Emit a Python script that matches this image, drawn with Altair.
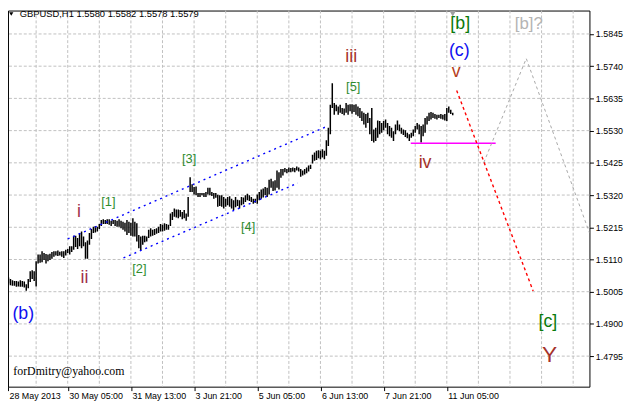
import json
import altair as alt
import pandas as pd

# ---------------- data ----------------
# H1 bars (high / low), bar index starts at 1
highs = [
    1.5072, 1.5051, 1.5046, 1.5042, 1.5040, 1.5040, 1.5038, 1.5042, 1.5040, 1.5038,
    1.5029, 1.5046, 1.5072, 1.5075, 1.5072, 1.5104, 1.5126, 1.5126, 1.5137, 1.5131,
    1.5128, 1.5126, 1.5129, 1.5134, 1.5137, 1.5137, 1.5139, 1.5135, 1.5137, 1.5137,
    1.5142, 1.5144, 1.5153, 1.5153, 1.5187, 1.5187, 1.5180, 1.5196, 1.5201, 1.5185,
    1.5166, 1.5172, 1.5196, 1.5209, 1.5217, 1.5219, 1.5217, 1.5226, 1.5239, 1.5241,
    1.5239, 1.5241, 1.5241, 1.5236, 1.5239, 1.5239, 1.5236, 1.5241, 1.5236, 1.5233,
    1.5230, 1.5239, 1.5233, 1.5230, 1.5244, 1.5233, 1.5228, 1.5190, 1.5185, 1.5187,
    1.5187, 1.5185, 1.5207, 1.5212, 1.5207, 1.5209, 1.5212, 1.5217, 1.5226, 1.5223,
    1.5228, 1.5226, 1.5223, 1.5260, 1.5265, 1.5276, 1.5273, 1.5273, 1.5271, 1.5265,
    1.5271, 1.5260, 1.5314, 1.5378, 1.5355, 1.5346, 1.5348, 1.5327, 1.5327, 1.5327,
    1.5327, 1.5330, 1.5344, 1.5344, 1.5330, 1.5327, 1.5327, 1.5321, 1.5319, 1.5319,
    1.5314, 1.5308, 1.5314, 1.5316, 1.5308, 1.5303, 1.5314, 1.5305, 1.5303, 1.5314,
    1.5312, 1.5319, 1.5324, 1.5319, 1.5314, 1.5308, 1.5308, 1.5322, 1.5330, 1.5338,
    1.5341, 1.5346, 1.5344, 1.5370, 1.5373, 1.5365, 1.5368, 1.5400, 1.5394, 1.5405,
    1.5405, 1.5408, 1.5405, 1.5410, 1.5408, 1.5410, 1.5408, 1.5413, 1.5410, 1.5405,
    1.5400, 1.5405, 1.5410, 1.5416, 1.5419, 1.5451, 1.5459, 1.5464, 1.5466, 1.5464,
    1.5469, 1.5464, 1.5499, 1.5539, 1.5614, 1.5684, 1.5620, 1.5614, 1.5609, 1.5614,
    1.5604, 1.5602, 1.5620, 1.5614, 1.5616, 1.5616, 1.5614, 1.5616, 1.5609, 1.5604,
    1.5593, 1.5588, 1.5584, 1.5588, 1.5571, 1.5604, 1.5534, 1.5539, 1.5563, 1.5561,
    1.5555, 1.5561, 1.5566, 1.5555, 1.5545, 1.5539, 1.5528, 1.5550, 1.5563, 1.5550,
    1.5539, 1.5534, 1.5531, 1.5523, 1.5518, 1.5523, 1.5534, 1.5545, 1.5555, 1.5550,
    1.5545, 1.5550, 1.5571, 1.5577, 1.5588, 1.5591, 1.5588, 1.5584, 1.5582, 1.5582,
    1.5584, 1.5582, 1.5584, 1.5604, 1.5609, 1.5598, 1.5588,
]
lows = [
    1.5046, 1.5032, 1.5026, 1.5024, 1.5024, 1.5021, 1.5022, 1.5021, 1.5021, 1.5019,
    1.5008, 1.5016, 1.5037, 1.5046, 1.5040, 1.5022, 1.5097, 1.5099, 1.5101, 1.5108,
    1.5097, 1.5104, 1.5108, 1.5112, 1.5119, 1.5123, 1.5121, 1.5123, 1.5119, 1.5115,
    1.5123, 1.5131, 1.5126, 1.5134, 1.5142, 1.5151, 1.5144, 1.5153, 1.5147, 1.5153,
    1.5112, 1.5112, 1.5158, 1.5177, 1.5196, 1.5198, 1.5201, 1.5209, 1.5219, 1.5226,
    1.5226, 1.5226, 1.5223, 1.5219, 1.5226, 1.5219, 1.5217, 1.5217, 1.5212, 1.5207,
    1.5201, 1.5190, 1.5196, 1.5187, 1.5185, 1.5185, 1.5169, 1.5147, 1.5140, 1.5158,
    1.5166, 1.5169, 1.5180, 1.5185, 1.5187, 1.5190, 1.5194, 1.5196, 1.5201, 1.5201,
    1.5204, 1.5207, 1.5207, 1.5219, 1.5239, 1.5249, 1.5247, 1.5244, 1.5249, 1.5241,
    1.5244, 1.5236, 1.5249, 1.5330, 1.5330, 1.5322, 1.5319, 1.5314, 1.5314, 1.5319,
    1.5314, 1.5314, 1.5322, 1.5319, 1.5317, 1.5308, 1.5311, 1.5282, 1.5284, 1.5282,
    1.5276, 1.5282, 1.5287, 1.5282, 1.5276, 1.5271, 1.5280, 1.5284, 1.5276, 1.5287,
    1.5290, 1.5297, 1.5303, 1.5301, 1.5297, 1.5292, 1.5295, 1.5292, 1.5303, 1.5308,
    1.5312, 1.5319, 1.5314, 1.5322, 1.5344, 1.5333, 1.5335, 1.5344, 1.5338, 1.5376,
    1.5384, 1.5394, 1.5391, 1.5394, 1.5394, 1.5397, 1.5394, 1.5400, 1.5397, 1.5380,
    1.5384, 1.5387, 1.5391, 1.5397, 1.5405, 1.5423, 1.5432, 1.5434, 1.5440, 1.5437,
    1.5442, 1.5437, 1.5448, 1.5480, 1.5518, 1.5604, 1.5582, 1.5593, 1.5582, 1.5588,
    1.5584, 1.5580, 1.5588, 1.5582, 1.5593, 1.5585, 1.5591, 1.5582, 1.5577, 1.5571,
    1.5561, 1.5550, 1.5539, 1.5555, 1.5518, 1.5496, 1.5491, 1.5496, 1.5507, 1.5518,
    1.5523, 1.5531, 1.5539, 1.5518, 1.5512, 1.5507, 1.5496, 1.5518, 1.5531, 1.5528,
    1.5520, 1.5516, 1.5509, 1.5505, 1.5496, 1.5507, 1.5512, 1.5523, 1.5534, 1.5518,
    1.5491, 1.5512, 1.5523, 1.5550, 1.5561, 1.5566, 1.5571, 1.5569, 1.5566, 1.5571,
    1.5569, 1.5566, 1.5563, 1.5561, 1.5588, 1.5584, 1.5580,
]

# time axis: bar positions of the labels and the grid
x_label_pos = [1.75, 32, 64, 96, 128, 160, 192, 224]
x_labels = ["28 May 2013", "30 May 05:00", "31 May 13:00", "3 Jun 21:00",
            "5 Jun 05:00", "6 Jun 13:00", "7 Jun 21:00", "11 Jun 05:00"]
x_grid = [16, 32, 48, 64, 80, 96, 112, 128, 144, 160, 176, 192, 208, 224,
          240, 256, 272, 288]
y_ticks = [1.5845, 1.5740, 1.5635, 1.5530, 1.5425, 1.5320, 1.5215, 1.5110,
           1.5005, 1.4900, 1.4795]

# wave labels
lab_text = ["(b)", "i", "ii", "[1]", "[2]", "[3]", "[4]", "[5]", "iii", "iv",
            "v", "(c)", "[b]", "[b]?", "[c]", "Y"]
lab_x = [9.5, 37.7, 40.5, 52.6, 68.3, 93.5, 123.4, 176.6, 175.6, 213.0,
         228.8, 230.3, 230.8, 265.5, 275.2, 276.0]
lab_p = [1.4933, 1.5265, 1.5051, 1.5298, 1.5080, 1.5437, 1.5215, 1.5673, 1.5770, 1.5424,
         1.5720, 1.5790, 1.5877, 1.5877, 1.4906, 1.4798]
lab_color = ["#1010F0", "#A0304A", "#A0304A", "#2E8B2E", "#2E8B2E", "#2E8B2E", "#2E8B2E",
             "#2E8B2E", "#A5322A", "#A5322A", "#B5401A", "#1010F0", "#0A7A0A", "#B4B4B4",
             "#0A7A0A", "#A5322A"]
lab_size = [18, 18, 18, 13, 13, 13, 13, 13, 18, 18, 18, 18, 18, 17, 18, 23]

# trend / forecast lines (bar index, price)
chan_x1 = [32.0, 60.25]
chan_p1 = [1.5177, 1.5115]
chan_x2 = [162.25, 148.55]
chan_p2 = [1.5541, 1.5359]
red_x = [229.0, 267.75]
red_p = [1.5661, 1.5007]
mag_x = [205.75, 248.75]
mag_p = [1.5489, 1.5489]
gray_x = [242.75, 264.25, 296.25]
gray_p = [1.5426, 1.5765, 1.5197]

# ---------------- chart ----------------
X_DOM = [1.75, 296.25]
Y_DOM = [1.46955, 1.59213]
FONT = "Liberation Sans"

xscale = alt.Scale(domain=X_DOM, nice=False, zero=False)
yscale = alt.Scale(domain=Y_DOM, nice=False, zero=False)

label_expr = json.dumps(x_labels) + "[round(datum.value / 32)]"
X_AX = alt.Axis(values=x_label_pos, labelExpr=label_expr, grid=False, domain=False,
                ticks=True, tickSize=4, tickColor="black", labelAlign="left",
                labelBaseline="top", labelPadding=1, labelOffset=1, labelFont=FONT,
                labelFontSize=9, labelColor="black", labelOverlap=False,
                labelFlush=False, title=None)
Y_AX = alt.Axis(orient="right", values=y_ticks, format=".4f", grid=False, domain=False,
                ticks=True, tickSize=4, tickColor="black", labelPadding=2,
                labelFont=FONT, labelFontSize=9, labelColor="black",
                labelFlush=False, labelOverlap=False, title=None)


def X(field):
    return alt.X(field, type="quantitative", scale=xscale, axis=X_AX)


def Y(field):
    return alt.Y(field, type="quantitative", scale=yscale, axis=Y_AX)


n = min(len(highs), len(lows))
bars_df = pd.DataFrame({"i": list(range(1, n + 1)), "high": highs[:n], "low": lows[:n]})

vgrid = alt.Chart(pd.DataFrame({"g": x_grid})).mark_rule(
    color="#C0C0C0", strokeDash=[3, 2], strokeWidth=1).encode(x=X("g"))
hgrid = alt.Chart(pd.DataFrame({"v": y_ticks})).mark_rule(
    color="#C0C0C0", strokeDash=[3, 2], strokeWidth=1).encode(y=Y("v"))

bars = alt.Chart(bars_df).mark_rule(color="black", strokeWidth=1.5, clip=True).encode(
    x=X("i"), y=Y("low"), y2="high")

chan = alt.Chart(pd.DataFrame({"x1": chan_x1, "p1": chan_p1, "x2": chan_x2, "p2": chan_p2})
                 ).mark_rule(color="#0000FF", strokeDash=[2, 4], strokeWidth=1.4).encode(
    x=X("x1"), y=Y("p1"), x2="x2", y2="p2")

mag = alt.Chart(pd.DataFrame({"x": mag_x, "p": mag_p})).mark_line(
    color="#FF00FF", strokeWidth=1.6).encode(x=X("x"), y=Y("p"))

red = alt.Chart(pd.DataFrame({"x": red_x, "p": red_p})).mark_line(
    color="#FF0000", strokeDash=[3, 3], strokeWidth=1.4).encode(x=X("x"), y=Y("p"))

gray = alt.Chart(pd.DataFrame({"x": gray_x, "p": gray_p, "o": [0, 1, 2]})).mark_line(
    color="#A8A8A8", strokeDash=[3, 3], strokeWidth=1, clip=True).encode(
    x=X("x"), y=Y("p"), order="o:Q")

labels = alt.Chart(pd.DataFrame({"t": lab_text, "x": lab_x, "p": lab_p,
                                 "c": lab_color, "s": lab_size})).mark_text(
    font=FONT, baseline="middle", align="center").encode(
    x=X("x"), y=Y("p"), text="t:N",
    color=alt.Color("c:N", scale=None), size=alt.Size("s:Q", scale=None))

title_txt = alt.Chart(pd.DataFrame({"t": ["GBPUSD,H1 1.5580 1.5582 1.5578 1.5579"],
                                    "x": [7.7], "p": [1.5909]})).mark_text(
    font=FONT, fontSize=9.5, align="left", baseline="middle", color="black").encode(
    x=X("x"), y=Y("p"), text="t:N")

title_tri = alt.Chart(pd.DataFrame({"x": [3.4], "p": [1.5910]})).mark_point(
    shape="triangle-down", filled=True, size=18, color="black", opacity=1).encode(
    x=X("x"), y=Y("p"))

shift_tri = alt.Chart(pd.DataFrame({"x": [227.0], "p": [1.5911]})).mark_point(
    shape="triangle-down", filled=True, size=40, color="#A0A0A0", opacity=1,
    clip=True).encode(x=X("x"), y=Y("p"))

email = alt.Chart(pd.DataFrame({"t": ["forDmitry@yahoo.com"], "x": [4.45], "p": [1.4745]})
                  ).mark_text(font="Liberation Serif", fontSize=12, align="left",
                              baseline="middle", color="black").encode(
    x=X("x"), y=Y("p"), text="t:N")

chart = alt.layer(
    vgrid, hgrid, bars, chan, mag, red, gray, labels, title_txt, title_tri, shift_tri, email
).properties(
    width=589, height=381, background="white",
    autosize=alt.AutoSizeParams(type="none"),
    padding={"left": 0, "top": 0, "right": 35, "bottom": 17},
).configure_view(stroke="black", strokeWidth=1)

chart.save("out.html", embed_options={"renderer": "svg", "actions": False})
